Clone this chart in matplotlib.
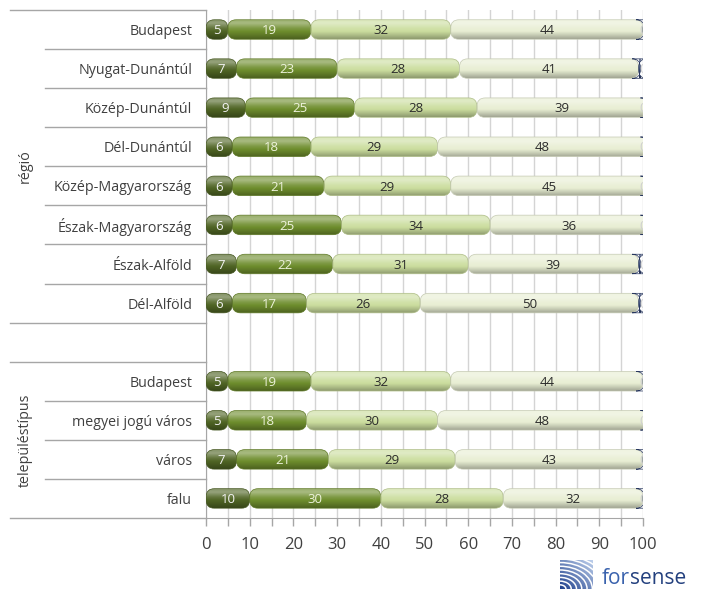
import numpy as np
import matplotlib
matplotlib.use("Agg")
import matplotlib.pyplot as plt
from matplotlib.patches import FancyBboxPatch, Arc
from matplotlib.colors import to_rgb
import matplotlib.transforms as mtransforms

# ---------------- data ----------------
categories = ["Budapest", "Nyugat-Dunántúl", "Közép-Dunántúl", "Dél-Dunántúl",
              "Közép-Magyarország", "Észak-Magyarország", "Észak-Alföld", "Dél-Alföld",
              "",
              "Budapest", "megyei jogú város", "város", "falu"]
group_names = ["régió", "településtípus"]
group_rows = [(0, 7), (9, 12)]

s1 = [5, 7, 9, 6, 6, 6, 7, 6, 0, 5, 5, 7, 10]
s2 = [19, 23, 25, 18, 21, 25, 22, 17, 0, 19, 18, 21, 30]
s3 = [32, 28, 28, 29, 29, 34, 31, 26, 0, 32, 30, 29, 28]
s4 = [44, 41, 39, 48, 45, 36, 39, 50, 0, 44, 48, 43, 32]
s5 = [0.3, 0.4, 0.3, 0.3, 0.3, 0.3, 0.4, 0.4, 0, 0.3, 0.3, 0.3, 0.3]
series = [s1, s2, s3, s4, s5]
colors = ["#4f6424", "#6e8d2d", "#cbdd9e", "#e8eed3", "#2f4170"]
label_colors = ["#f2f2f2", "#eef3dc", "#2b2b2b", "#2b2b2b", "#d0d0d0"]

xticks = [0, 10, 20, 30, 40, 50, 60, 70, 80, 90, 100]

# ---------------- figure ----------------
fig = plt.figure(figsize=(7.13, 5.94), dpi=100)
ax = fig.add_axes([206 / 713, 1 - 518 / 594, 437 / 713, 508 / 594])

FONT = "Open Sans"
txt_col = "#404040"
n = len(categories)
y = np.arange(n)

def grad_colors(base, npts=40):
    b = np.array(to_rgb(base))
    t = np.linspace(0, 1, npts)
    shade = np.interp(t, [0, 0.2, 0.45, 0.75, 1.0], [0.30, 0.40, 0.12, -0.10, -0.30])
    out = np.zeros((npts, 1, 3))
    for i, s in enumerate(shade):
        if s >= 0:
            out[i, 0] = b + (1 - b) * s
        else:
            out[i, 0] = b * (1 + s)
    return np.clip(out, 0, 1)

ax.set_xlim(0, 100)
ax.set_ylim(n - 0.5, -0.5)

left = np.zeros(n)
bar_h = 0.5
for k, (vals, col) in enumerate(zip(series, colors)):
    bars = ax.barh(y, vals, left=left, height=bar_h, color="none", edgecolor="none")
    grad = grad_colors(col)
    for rect, v in zip(bars, vals):
        w = rect.get_width()
        if w <= 0:
            continue
        x0, y0, h = rect.get_x(), rect.get_y(), rect.get_height()
        patch = FancyBboxPatch((x0, y0), w, h,
                               boxstyle="round,pad=0,rounding_size=1.9",
                               mutation_aspect=0.115,
                               facecolor="none",
                               edgecolor=np.array(to_rgb(col)) * 0.85,
                               linewidth=0.5, zorder=4)
        ax.add_patch(patch)
        im = ax.imshow(grad, extent=[x0, x0 + w, y0 + h, y0], aspect="auto",
                       interpolation="bilinear", zorder=3)
        im.set_clip_path(patch)
    for rect, v in zip(bars, vals):
        if rect.get_width() <= 0:
            continue
        cx = rect.get_x() + rect.get_width() / 2
        if k == 4:
            cx = ax.get_xlim()[1]
        ax.text(cx, rect.get_y() + rect.get_height() / 2 + 0.03, f"{v:.0f}",
                ha="center", va="center", fontsize=9.5, color=label_colors[k],
                family=FONT, zorder=5, clip_on=True)
    left = left + np.array(vals, dtype=float)

ax.set_xlim(0, 100)
ax.set_ylim(n - 0.5, -0.5)
ax.set_aspect("auto")

# ticks & grid
ax.set_xticks(xticks)
ax.set_xticks(np.arange(5, 100, 10), minor=True)
ax.set_xticklabels([str(t) for t in xticks], fontsize=12, color=txt_col, family=FONT)
ax.tick_params(axis="x", which="both", direction="out", length=6, color="#a6a6a6",
               pad=8, width=1)
ax.grid(axis="x", which="both", color="#d4d4d4", linewidth=1, zorder=0)
ax.set_axisbelow(True)
ax.set_yticks(y)
ax.set_yticklabels(categories, fontsize=10.3, color=txt_col, family=FONT)
ax.tick_params(axis="y", length=0, pad=10)

for s in ["top", "right"]:
    ax.spines[s].set_visible(False)
ax.spines["left"].set_color("#a6a6a6")
ax.spines["bottom"].set_color("#a6a6a6")

# separators in the category area
tr = mtransforms.blended_transform_factory(ax.transAxes, ax.transData)
x_group = (10 - 206) / 437
x_row = (45 - 206) / 437
for (a, b) in group_rows:
    for r in range(a, b):
        ax.plot([x_row, 0], [r + 0.5, r + 0.5], transform=tr, color="#a6a6a6",
                lw=1, clip_on=False)
for yb in [-0.5, 7.5, 8.5, 12.5]:
    ax.plot([x_group, 0], [yb, yb], transform=tr, color="#a6a6a6", lw=1, clip_on=False)

x_glab = (25 - 206) / 437
for name, (a, b) in zip(group_names, group_rows):
    ax.text(x_glab, (a + b) / 2, name, rotation=90, ha="center", va="center",
            fontsize=10.3, color=txt_col, family=FONT, transform=tr)

# logo
lax = fig.add_axes([560 / 713, 1 - 589 / 594, 33 / 713, 29 / 594])
limg = np.zeros((50, 50, 3))
for i in range(50):
    for j in range(50):
        t = (i + (50 - j)) / 100
        limg[i, j] = np.array([0.75, 0.82, 0.93]) * (1 - t) + np.array([0.12, 0.25, 0.55]) * t
lax.imshow(limg, extent=[0, 1, 0, 1], aspect="auto")
for r in np.arange(0.18, 1.5, 0.16):
    lax.add_patch(Arc((0, 0), 2 * r, 2 * r * 0.8, theta1=0, theta2=90, color="white", lw=1.1))
lax.set_xlim(0, 1)
lax.set_ylim(0, 1)
lax.axis("off")
t1 = fig.text(602 / 713, 1 - 578 / 594, "for", fontsize=15, color="#3a62ad", family=FONT,
              ha="left", va="center")
renderer = fig.canvas.get_renderer()
bb = t1.get_window_extent(renderer=renderer)
fig.text(bb.x1 / fig.bbox.width, 1 - 578 / 594, "sense", fontsize=15, color="#23407e",
         family=FONT, ha="left", va="center")

fig.savefig("out.png", dpi=100)
